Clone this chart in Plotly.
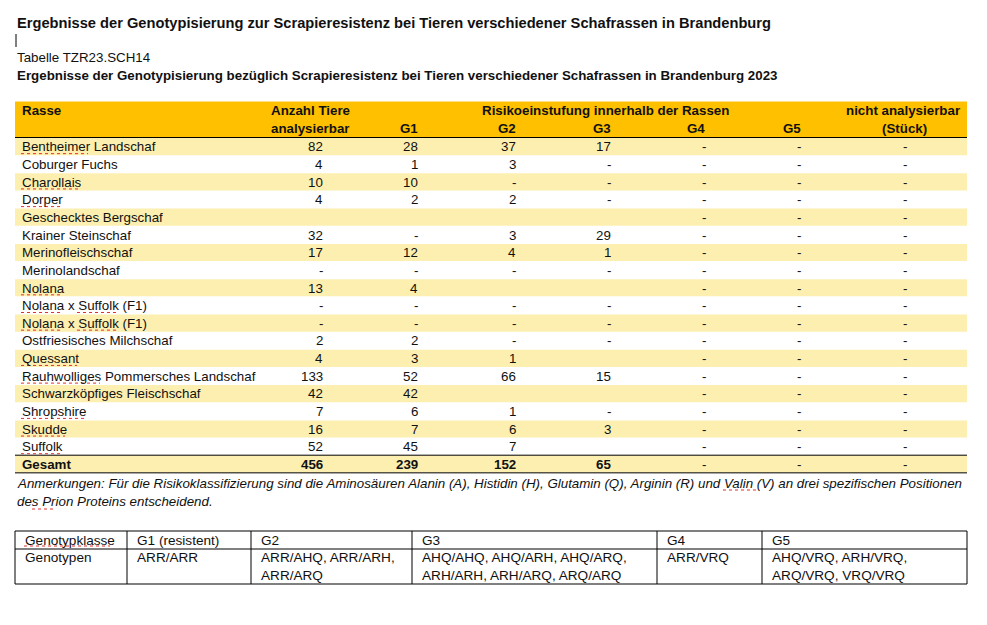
import plotly.graph_objects as go

# ---------------- data ----------------
title = "Ergebnisse der Genotypisierung zur Scrapieresistenz bei Tieren verschiedener Schafrassen in Brandenburg"
table_id = "Tabelle TZR23.SCH14"
subtitle = "Ergebnisse der Genotypisierung bezüglich Scrapieresistenz bei Tieren verschiedener Schafrassen in Brandenburg 2023"

rassen = ["Bentheimer Landschaf", "Coburger Fuchs", "Charollais", "Dorper", "Geschecktes Bergschaf",
          "Krainer Steinschaf", "Merinofleischschaf", "Merinolandschaf", "Nolana", "Nolana x Suffolk (F1)",
          "Nolana x Suffolk (F1)", "Ostfriesisches Milchschaf", "Quessant", "Rauhwolliges Pommersches Landschaf",
          "Schwarzköpfiges Fleischschaf", "Shropshire", "Skudde", "Suffolk"]
anzahl = ["82", "4", "10", "4", "", "32", "17", "-", "13", "-", "-", "2", "4", "133", "42", "7", "16", "52"]
g1 = ["28", "1", "10", "2", "", "-", "12", "-", "4", "-", "-", "2", "3", "52", "42", "6", "7", "45"]
g2 = ["37", "3", "-", "2", "", "3", "4", "-", "", "-", "-", "-", "1", "66", "", "1", "6", "7"]
g3 = ["17", "-", "-", "-", "", "29", "1", "-", "", "-", "-", "-", "", "15", "", "-", "3", ""]
g4 = ["-"] * 18
g5 = ["-"] * 18
nicht = ["-"] * 18
gesamt_label = "Gesamt"
gesamt = ["456", "239", "152", "65", "-", "-", "-"]

header1 = ["Rasse", "Anzahl Tiere", "Risikoeinstufung innerhalb der Rassen", "nicht analysierbar"]
header2 = ["analysierbar", "G1", "G2", "G3", "G4", "G5", "(Stück)"]

note_lines = ["Anmerkungen: Für die Risikoklassifizierung sind die Aminosäuren Alanin (A), Histidin (H), Glutamin (Q), Arginin (R) und Valin (V) an drei spezifischen Positionen",
              "des Prion Proteins entscheidend."]

geno_header = ["Genotypklasse", "G1 (resistent)", "G2", "G3", "G4", "G5"]
geno_row = ["Genotypen", "ARR/ARR", "ARR/AHQ, ARR/ARH,<br>ARR/ARQ", "AHQ/AHQ, AHQ/ARH, AHQ/ARQ,<br>ARH/ARH, ARH/ARQ, ARQ/ARQ",
            "ARR/VRQ", "AHQ/VRQ, ARH/VRQ,<br>ARQ/VRQ, VRQ/VRQ"]

# ---------------- styling / layout ----------------
FONT = "Liberation Sans, Arial, sans-serif"
ORANGE = "#FFC000"
STRIPE = "#FCEFB0"
TXT = "#111111"
W, H = 987, 625
OFF = 8  # page body margin
L, R = 15, 967
HDR_TOP, HDR_BOT = 101.5, 137.5
ROW_H = 17.65
FS = 13.33

col_x = [325, 420, 518, 613, 708, 803, 904.5]
col_anchor = ["right", "right", "right", "right", "right", "right", "center"]

fig = go.Figure()
shapes = []
ann = []

def text(x, y, s, size=FS, bold=False, italic=False, anchor="left", color=TXT):
    if bold:
        s = "<b>" + s + "</b>"
    if italic:
        s = "<i>" + s + "</i>"
    ann.append(dict(x=x, y=y, xref="x", yref="y", text=s, showarrow=False, xanchor=anchor,
                    yanchor="middle", font=dict(family=FONT, size=size, color=color), align="left"))

# titles
text(15, 23, title, size=14.67, bold=True)
shapes.append(dict(type="line", x0=16, x1=16, y0=34, y1=47, xref="x", yref="y", line=dict(color="black", width=1)))
text(15, 57.5, table_id)
text(15, 75.5, subtitle, bold=True)

# header
shapes.append(dict(type="rect", x0=L, x1=R, y0=HDR_TOP, y1=HDR_BOT, xref="x", yref="y",
                   fillcolor=ORANGE, line=dict(width=0), layer="below"))
shapes.append(dict(type="line", x0=L, x1=R, y0=HDR_BOT, y1=HDR_BOT, xref="x", yref="y", line=dict(color="black", width=1)))
text(20, 110, header1[0], bold=True)
text(352, 110, header1[1], bold=True, anchor="right")
text(480, 110, header1[2], bold=True)
text(962, 110, header1[3], bold=True, anchor="right")
text(352, 128, header2[0], bold=True, anchor="right")
hdr2_x = [420, 518, 613, 707, 803, 904.5]
for i, s in enumerate(header2[1:]):
    text(hdr2_x[i], 128, s, bold=True, anchor="center" if i == 5 else "right")

# rows
cols = [anzahl, g1, g2, g3, g4, g5, nicht]
for i, name in enumerate(rassen):
    top = HDR_BOT + i * ROW_H
    yc = top + ROW_H / 2 + 0.5
    if i % 2 == 0:
        shapes.append(dict(type="rect", x0=L, x1=R, y0=top + 0.5, y1=top + ROW_H, xref="x", yref="y",
                           fillcolor=STRIPE, line=dict(width=0), layer="below"))
    text(20, yc, name)
    for c, col in enumerate(cols):
        if col[i]:
            text(col_x[c], yc, col[i], anchor=col_anchor[c])

# total row
top = HDR_BOT + len(rassen) * ROW_H
shapes.append(dict(type="rect", x0=L, x1=R, y0=top, y1=top + ROW_H, xref="x", yref="y",
                   fillcolor=STRIPE, line=dict(width=0), layer="below"))
shapes.append(dict(type="line", x0=L, x1=R, y0=top, y1=top, xref="x", yref="y", line=dict(color="black", width=1)))
shapes.append(dict(type="line", x0=L, x1=R, y0=top + ROW_H, y1=top + ROW_H, xref="x", yref="y", line=dict(color="black", width=1)))
yc = top + ROW_H / 2 + 0.5
text(20, yc, gesamt_label, bold=True)
for c, v in enumerate(gesamt):
    text(col_x[c], yc, v, bold=(c < 4), anchor=col_anchor[c])

# note
text(15, 483, note_lines[0], italic=True)
text(15, 501, note_lines[1], italic=True)

# spell-check squiggles (decoration)
squig = [(21, 88, 0), (21, 80, 2), (21, 62, 3), (21, 62, 8), (21, 62, 9), (77, 117, 9), (21, 62, 10),
         (77, 117, 10), (21, 77, 12), (21, 100, 13), (21, 84, 15), (21, 65, 16), (21, 62, 17)]
for x0, x1, r in squig:
    yy = HDR_BOT + r * ROW_H + ROW_H - 1.5
    shapes.append(dict(type="line", x0=x0, x1=x1, y0=yy, y1=yy, xref="x", yref="y",
                       line=dict(color="#e03030", width=1, dash="dot")))
for x0, x1, yy in [(32, 55, 509), (723, 757, 490), (24, 110, 546)]:
    shapes.append(dict(type="line", x0=x0, x1=x1, y0=yy, y1=yy, xref="x", yref="y",
                       line=dict(color="#e03030", width=1, dash="dot")))

# genotype table
gx = [15, 127, 251, 412, 657, 762, 967]
gy = [531, 549, 584]
for x in gx:
    shapes.append(dict(type="line", x0=x, x1=x, y0=gy[0], y1=gy[2], xref="x", yref="y", line=dict(color="black", width=1)))
for y in gy:
    shapes.append(dict(type="line", x0=gx[0], x1=gx[-1], y0=y, y1=y, xref="x", yref="y", line=dict(color="black", width=1)))
for j in range(6):
    text(gx[j] + 8, 540, geno_header[j], size=13.6)
    ann.append(dict(x=gx[j] + 8, y=548, xref="x", yref="y", text=geno_row[j], showarrow=False,
                    xanchor="left", yanchor="top", align="left",
                    font=dict(family=FONT, size=13.6, color=TXT)))

fig.update_layout(
    width=W - OFF, height=H - OFF, margin=dict(l=0, r=0, t=0, b=0),
    paper_bgcolor="white", plot_bgcolor="white",
    xaxis=dict(range=[OFF, W], visible=False, fixedrange=True),
    yaxis=dict(range=[H, OFF], visible=False, fixedrange=True),
    shapes=shapes, annotations=ann, showlegend=False,
)
fig.write_html("out.html")
